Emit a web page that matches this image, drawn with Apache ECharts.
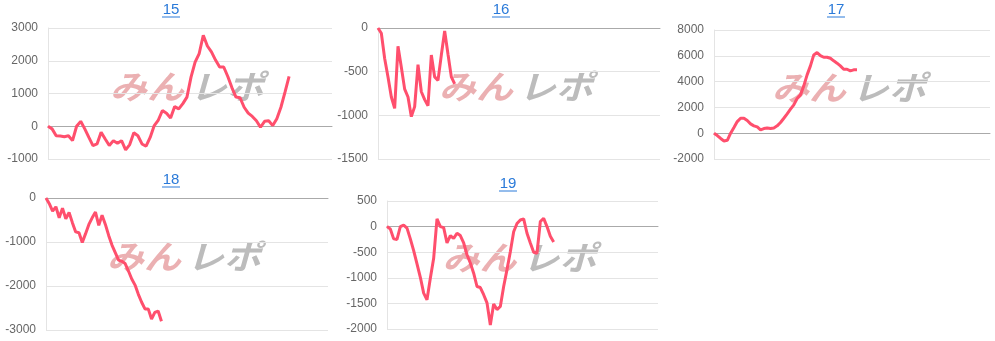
<!DOCTYPE html>
<html><head><meta charset="utf-8">
<script src="https://cdn.jsdelivr.net/npm/echarts@6/dist/echarts.min.js"></script>
<style>html,body{margin:0;padding:0;background:#fff}#c{width:995px;height:341px}</style>
</head><body><div id="c"></div>
<script>
// ---- data ----
const titles = ['15', '16', '17', '18', '19'];
const s15 = [0,-80,-290,-300,-320,-290,-440,0,150,-80,-340,-590,-540,-180,-390,-590,-440,-520,-440,-720,-560,-200,-290,-540,-610,-340,20,190,480,400,255,600,530,690,890,1500,1960,2220,2780,2450,2270,2020,1810,1810,1520,1180,890,870,580,400,300,170,-30,150,170,20,230,580,1040,1520];
const s16 = [0,-60,-350,-560,-790,-920,-210,-450,-700,-790,-1015,-900,-420,-730,-820,-890,-310,-560,-600,-310,-35,-300,-560,-640];
const s17 = [0,-180,-410,-600,-550,0,440,900,1160,1160,980,720,570,490,260,360,410,360,410,570,830,1160,1500,1860,2200,2690,2970,3670,4520,5220,6070,6250,6020,5890,5890,5810,5610,5430,5220,4960,4960,4830,4910,4910];
const s18 = [0,-130,-300,-200,-450,-230,-470,-330,-560,-770,-790,-1010,-810,-600,-450,-320,-620,-390,-600,-850,-1070,-1240,-1410,-1440,-1490,-1660,-1840,-1980,-2190,-2370,-2520,-2520,-2750,-2600,-2570,-2800];
const s19 = [0,-45,-240,-250,0,30,-30,-240,-470,-730,-990,-1300,-1430,-1010,-620,150,0,-20,-320,-175,-230,-130,-175,-320,-550,-710,-910,-1170,-1190,-1330,-1490,-1920,-1510,-1620,-1560,-1170,-840,-490,-100,60,130,150,-130,-320,-500,-520,100,160,0,-190,-300];
const seriesData = [s15, s16, s17, s18, s19];
const yMin = [-1000, -1500, -2000, -3000, -2000];
const yMax = [3000, 0, 8000, 0, 500];
const yStep = [1000, 500, 2000, 1000, 500];
const xSpan = [69.5, 84.6, 83, 85.5, 81.3];

// ---- layout ----
const grids = [
  {left: 48, top: 28, width: 284, height: 131},
  {left: 378, top: 28, width: 282, height: 131},
  {left: 714, top: 30, width: 276, height: 129},
  {left: 46, top: 198, width: 282, height: 132},
  {left: 387, top: 201, width: 271, height: 128}
];
const titlePos = [[171, 2], [501, 2], [836, 2], [171, 172], [508, 176]];
const LINE = '#ff4f6d';
const font = 'Arial, "Liberation Sans", sans-serif';

const graphic = [];
grids.forEach((g, i) => {
  const cx = g.left + g.width / 2, cy = g.top + g.height / 2;
  graphic.push({
    type: 'group', x: cx - 80, y: cy - 24, z: 0, silent: true,
    children: [
      {type: 'text', x: 0, y: 0, scaleX: 1.12, style: {text: 'みん', fill: '#ebb0b2', font: 'italic bold 33px "Noto Sans CJK JP"'}},
      {type: 'text', x: 80, y: 0, scaleX: 1.12, style: {text: 'レポ', fill: '#bcbcbc', font: 'italic bold 33px "Noto Sans CJK JP"'}}
    ]
  });
  const [tx, ty] = titlePos[i];
  graphic.push({type: 'text', x: tx, y: ty, z: 10, style: {text: titles[i], fill: '#2a7ad9', font: '15px ' + font, textAlign: 'center', textVerticalAlign: 'top'}});
  graphic.push({type: 'line', z: 10, shape: {x1: tx - 9, y1: ty + 15, x2: tx + 9, y2: ty + 15}, style: {stroke: '#2a7ad9', lineWidth: 1}});
});

const option = {
  animation: false,
  grid: grids,
  graphic: graphic,
  xAxis: grids.map((g, i) => ({
    type: 'value', gridIndex: i, min: 0, max: xSpan[i],
    axisLabel: {show: false}, axisTick: {show: false}, splitLine: {show: false},
    axisLine: {show: true, onZero: true, lineStyle: {color: '#aaaaaa', width: 1}}
  })),
  yAxis: grids.map((g, i) => ({
    type: 'value', gridIndex: i, min: yMin[i], max: yMax[i], interval: yStep[i],
    axisLine: {show: true, lineStyle: {color: '#e4e4e4'}}, axisTick: {show: false},
    axisLabel: {color: '#666', fontSize: 12, fontFamily: font, margin: 10, formatter: v => String(v)},
    splitLine: {lineStyle: {color: '#e4e4e4'}}
  })),
  series: seriesData.map((d, i) => ({
    type: 'line', xAxisIndex: i, yAxisIndex: i, z: 5,
    data: d.map((v, k) => [k, v]),
    symbol: 'none', smooth: false,
    lineStyle: {color: LINE, width: 3}
  }))
};
echarts.init(document.getElementById('c')).setOption(option);
</script></body></html>
